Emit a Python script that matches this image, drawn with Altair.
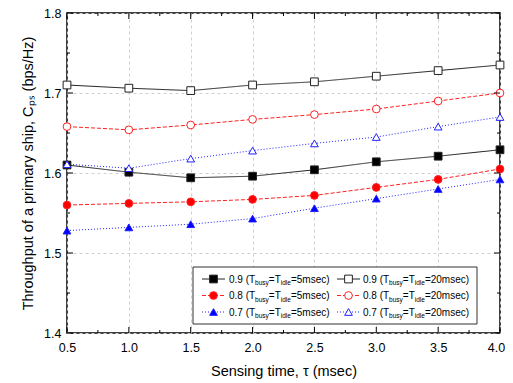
import altair as alt
import pandas as pd

# ---- data ----
tau = [0.5, 1.0, 1.5, 2.0, 2.5, 3.0, 3.5, 4.0]
s09_5 = [1.610, 1.601, 1.594, 1.596, 1.604, 1.614, 1.621, 1.629]
s08_5 = [1.560, 1.562, 1.564, 1.567, 1.572, 1.582, 1.592, 1.605]
s07_5 = [1.528, 1.532, 1.536, 1.543, 1.556, 1.568, 1.580, 1.592]
s09_20 = [1.710, 1.706, 1.703, 1.710, 1.714, 1.721, 1.728, 1.735]
s08_20 = [1.658, 1.654, 1.660, 1.667, 1.673, 1.680, 1.690, 1.700]
s07_20 = [1.611, 1.606, 1.618, 1.628, 1.637, 1.645, 1.658, 1.670]

x_major = [0.5, 1.0, 1.5, 2.0, 2.5, 3.0, 3.5, 4.0]
x_minor = [0.75, 1.25, 1.75, 2.25, 2.75, 3.25, 3.75]
y_major = [1.4, 1.5, 1.6, 1.7, 1.8]
y_minor = [1.45, 1.55, 1.65, 1.75]

series_keys = ["09_5", "08_5", "07_5", "09_20", "08_20", "07_20"]
series_vals = [s09_5, s08_5, s07_5, s09_20, s08_20, s07_20]
series_load = ["0.9", "0.8", "0.7", "0.9", "0.8", "0.7"]
series_iv = ["5", "5", "5", "20", "20", "20"]

line_colors = ["#222222", "#ff2020", "#2020ff", "#222222", "#ff2020", "#2020ff"]
mark_colors = ["#000000", "#ff0000", "#0000ff", "#000000", "#ff0000", "#0000ff"]
fill_colors = ["#000000", "#ff0000", "#0000ff", "#ffffff", "#ffffff", "#ffffff"]
shapes = ["square", "circle", "triangle-up", "square", "circle", "triangle-up"]
dashes = [[1, 0], [4, 2], [1, 2], [1, 0], [4, 2], [1, 2]]

rows = []
for k, vals in zip(series_keys, series_vals):
    for t, v in zip(tau, vals):
        rows.append({"tau": t, "val": v, "series": k})
df = pd.DataFrame(rows)

W, H = 433, 320
XS = alt.Scale(domain=[0.5, 4.0], nice=False, zero=False)
YS = alt.Scale(domain=[1.4, 1.8], nice=False, zero=False)
XT = "Sensing time, τ (msec)"
YT = "Throughput of a primary ship, Cₚₛ (bps/Hz)"
XA = alt.Axis(values=x_major, format=".1f",
              labelOffset=alt.expr("datum.value == 4 ? -4 : 0"))
YA = alt.Axis(values=y_major, format=".1f")


def X(f):
    return alt.X(f, scale=XS, title=XT, axis=XA)


def Y(f):
    return alt.Y(f, scale=YS, title=YT, axis=YA)


sc_line = alt.Scale(domain=series_keys, range=line_colors)
sc_mark = alt.Scale(domain=series_keys, range=mark_colors)
sc_fill = alt.Scale(domain=series_keys, range=fill_colors)
sc_shape = alt.Scale(domain=series_keys, range=shapes)
sc_dash = alt.Scale(domain=series_keys, range=dashes)

base = alt.Chart(df)

lines = base.mark_line(strokeWidth=1).encode(
    x=X("tau:Q"), y=Y("val:Q"),
    stroke=alt.Stroke("series:N", scale=sc_line, legend=None),
    strokeDash=alt.StrokeDash("series:N", scale=sc_dash, legend=None),
    detail="series:N",
)

points = base.mark_point(size=60, strokeWidth=1, opacity=1, filled=False).encode(
    x=X("tau:Q"), y=Y("val:Q"),
    shape=alt.Shape("series:N", scale=sc_shape, legend=None),
    stroke=alt.Stroke("series:N", scale=sc_mark, legend=None),
    fill=alt.Fill("series:N", scale=sc_fill, legend=None),
)

# ---- inward ticks on all four sides ----
xt = pd.DataFrame({"tau": x_major + x_minor, "len": [6] * len(x_major) + [3] * len(x_minor)})
yt = pd.DataFrame({"val": y_major + y_minor, "len": [6] * len(y_major) + [3] * len(y_minor)})
xt["b0"] = H
xt["b1"] = H - xt["len"]
xt["t0"] = 0
xt["t1"] = xt["len"]
yt["l0"] = 0
yt["l1"] = yt["len"]
yt["r0"] = W
yt["r1"] = W - yt["len"]

tick_style = dict(color="black", strokeWidth=1)
xb = alt.Chart(xt).mark_rule(**tick_style).encode(
    x=X("tau:Q"), y=alt.Y("b0:Q", scale=None), y2="b1:Q")
xtop = alt.Chart(xt).mark_rule(**tick_style).encode(
    x=X("tau:Q"), y=alt.Y("t0:Q", scale=None), y2="t1:Q")
yl = alt.Chart(yt).mark_rule(**tick_style).encode(
    y=Y("val:Q"), x=alt.X("l0:Q", scale=None), x2="l1:Q")
yr = alt.Chart(yt).mark_rule(**tick_style).encode(
    y=Y("val:Q"), x=alt.X("r0:Q", scale=None), x2="r1:Q")

# ---- legend drawn by hand (subscripts) ----
CW = {'0': 556, '1': 556, '2': 556, '5': 556, '7': 556, '8': 556, '9': 556, '.': 278,
      ' ': 278, '(': 333, ')': 333, 'T': 611, '=': 584, 'm': 833, 's': 500, 'e': 556,
      'c': 500, 'b': 556, 'u': 556, 'y': 500, 'i': 222, 'd': 556, 'l': 222}


def tw(s, f):
    return sum(CW[c] for c in s) * f / 1000.0


BOX = (126, 254, 410, 311)
ROW_Y = [266, 282.5, 299]
COL_X = [(135, 158, 146.5, 162), (270, 293, 281.5, 296)]
FS, SS = 10, 6.5

leg_lines, leg_pts, leg_txt = [], [], []
for i, k in enumerate(series_keys):
    col, row = i // 3, i % 3
    lx0, lx1, mx, tx = COL_X[col]
    y = ROW_Y[row]
    leg_lines.append({"x": lx0, "x2": lx1, "y": y, "series": k})
    leg_pts.append({"x": mx, "y": y, "series": k})
    pieces = [(f"{series_load[i]} (T", FS, 0), ("busy", SS, 2.5), ("=T", FS, 0),
              ("idle", SS, 2.5), (f"={series_iv[i]}msec)", FS, 0)]
    x = tx
    for txt, fs, dy in pieces:
        leg_txt.append({"x": x, "y": y + 3.5 + dy, "t": txt, "fs": fs})
        x += tw(txt, fs)

box = alt.Chart(pd.DataFrame([{"x": BOX[0], "y": BOX[1], "x2": BOX[2], "y2": BOX[3]}])).mark_rect(
    fill="white", stroke="#333333", strokeWidth=1).encode(
    x=alt.X("x:Q", scale=None), y=alt.Y("y:Q", scale=None), x2="x2:Q", y2="y2:Q")

lgl = alt.Chart(pd.DataFrame(leg_lines)).mark_rule(strokeWidth=1).encode(
    x=alt.X("x:Q", scale=None), x2="x2:Q", y=alt.Y("y:Q", scale=None),
    stroke=alt.Stroke("series:N", scale=sc_line, legend=None),
    strokeDash=alt.StrokeDash("series:N", scale=sc_dash, legend=None))

lgp = alt.Chart(pd.DataFrame(leg_pts)).mark_point(size=60, strokeWidth=1, opacity=1).encode(
    x=alt.X("x:Q", scale=None), y=alt.Y("y:Q", scale=None),
    shape=alt.Shape("series:N", scale=sc_shape, legend=None),
    stroke=alt.Stroke("series:N", scale=sc_mark, legend=None),
    fill=alt.Fill("series:N", scale=sc_fill, legend=None))

lgt = alt.Chart(pd.DataFrame(leg_txt)).mark_text(
    align="left", baseline="alphabetic", font="Arial", color="black").encode(
    x=alt.X("x:Q", scale=None), y=alt.Y("y:Q", scale=None), text="t:N",
    size=alt.Size("fs:Q", scale=None, legend=None))

chart = alt.layer(lines, points, xb, xtop, yl, yr, box, lgl, lgp, lgt).properties(
    width=W, height=H,
    autosize=alt.AutoSizeParams(type="none"),
    padding={"left": 59, "top": 5, "right": 5, "bottom": 47},
).configure_view(stroke="black", strokeWidth=1.5).configure_axis(
    ticks=False, domain=False, grid=True, gridColor="#d0d0d0", gridDash=[3, 3],
    gridWidth=1, labelFont="Arial", labelFontSize=12.5, labelColor="black",
    titleFont="Arial", titleFontSize=14.5, titleFontWeight="normal", titleColor="black",
    labelFlush=False, labelOverlap=False,
).configure_axisX(labelPadding=8, titlePadding=11).configure_axisY(
    labelPadding=6, titlePadding=8)

chart.save("out.html", embed_options={"renderer": "svg", "actions": False})
